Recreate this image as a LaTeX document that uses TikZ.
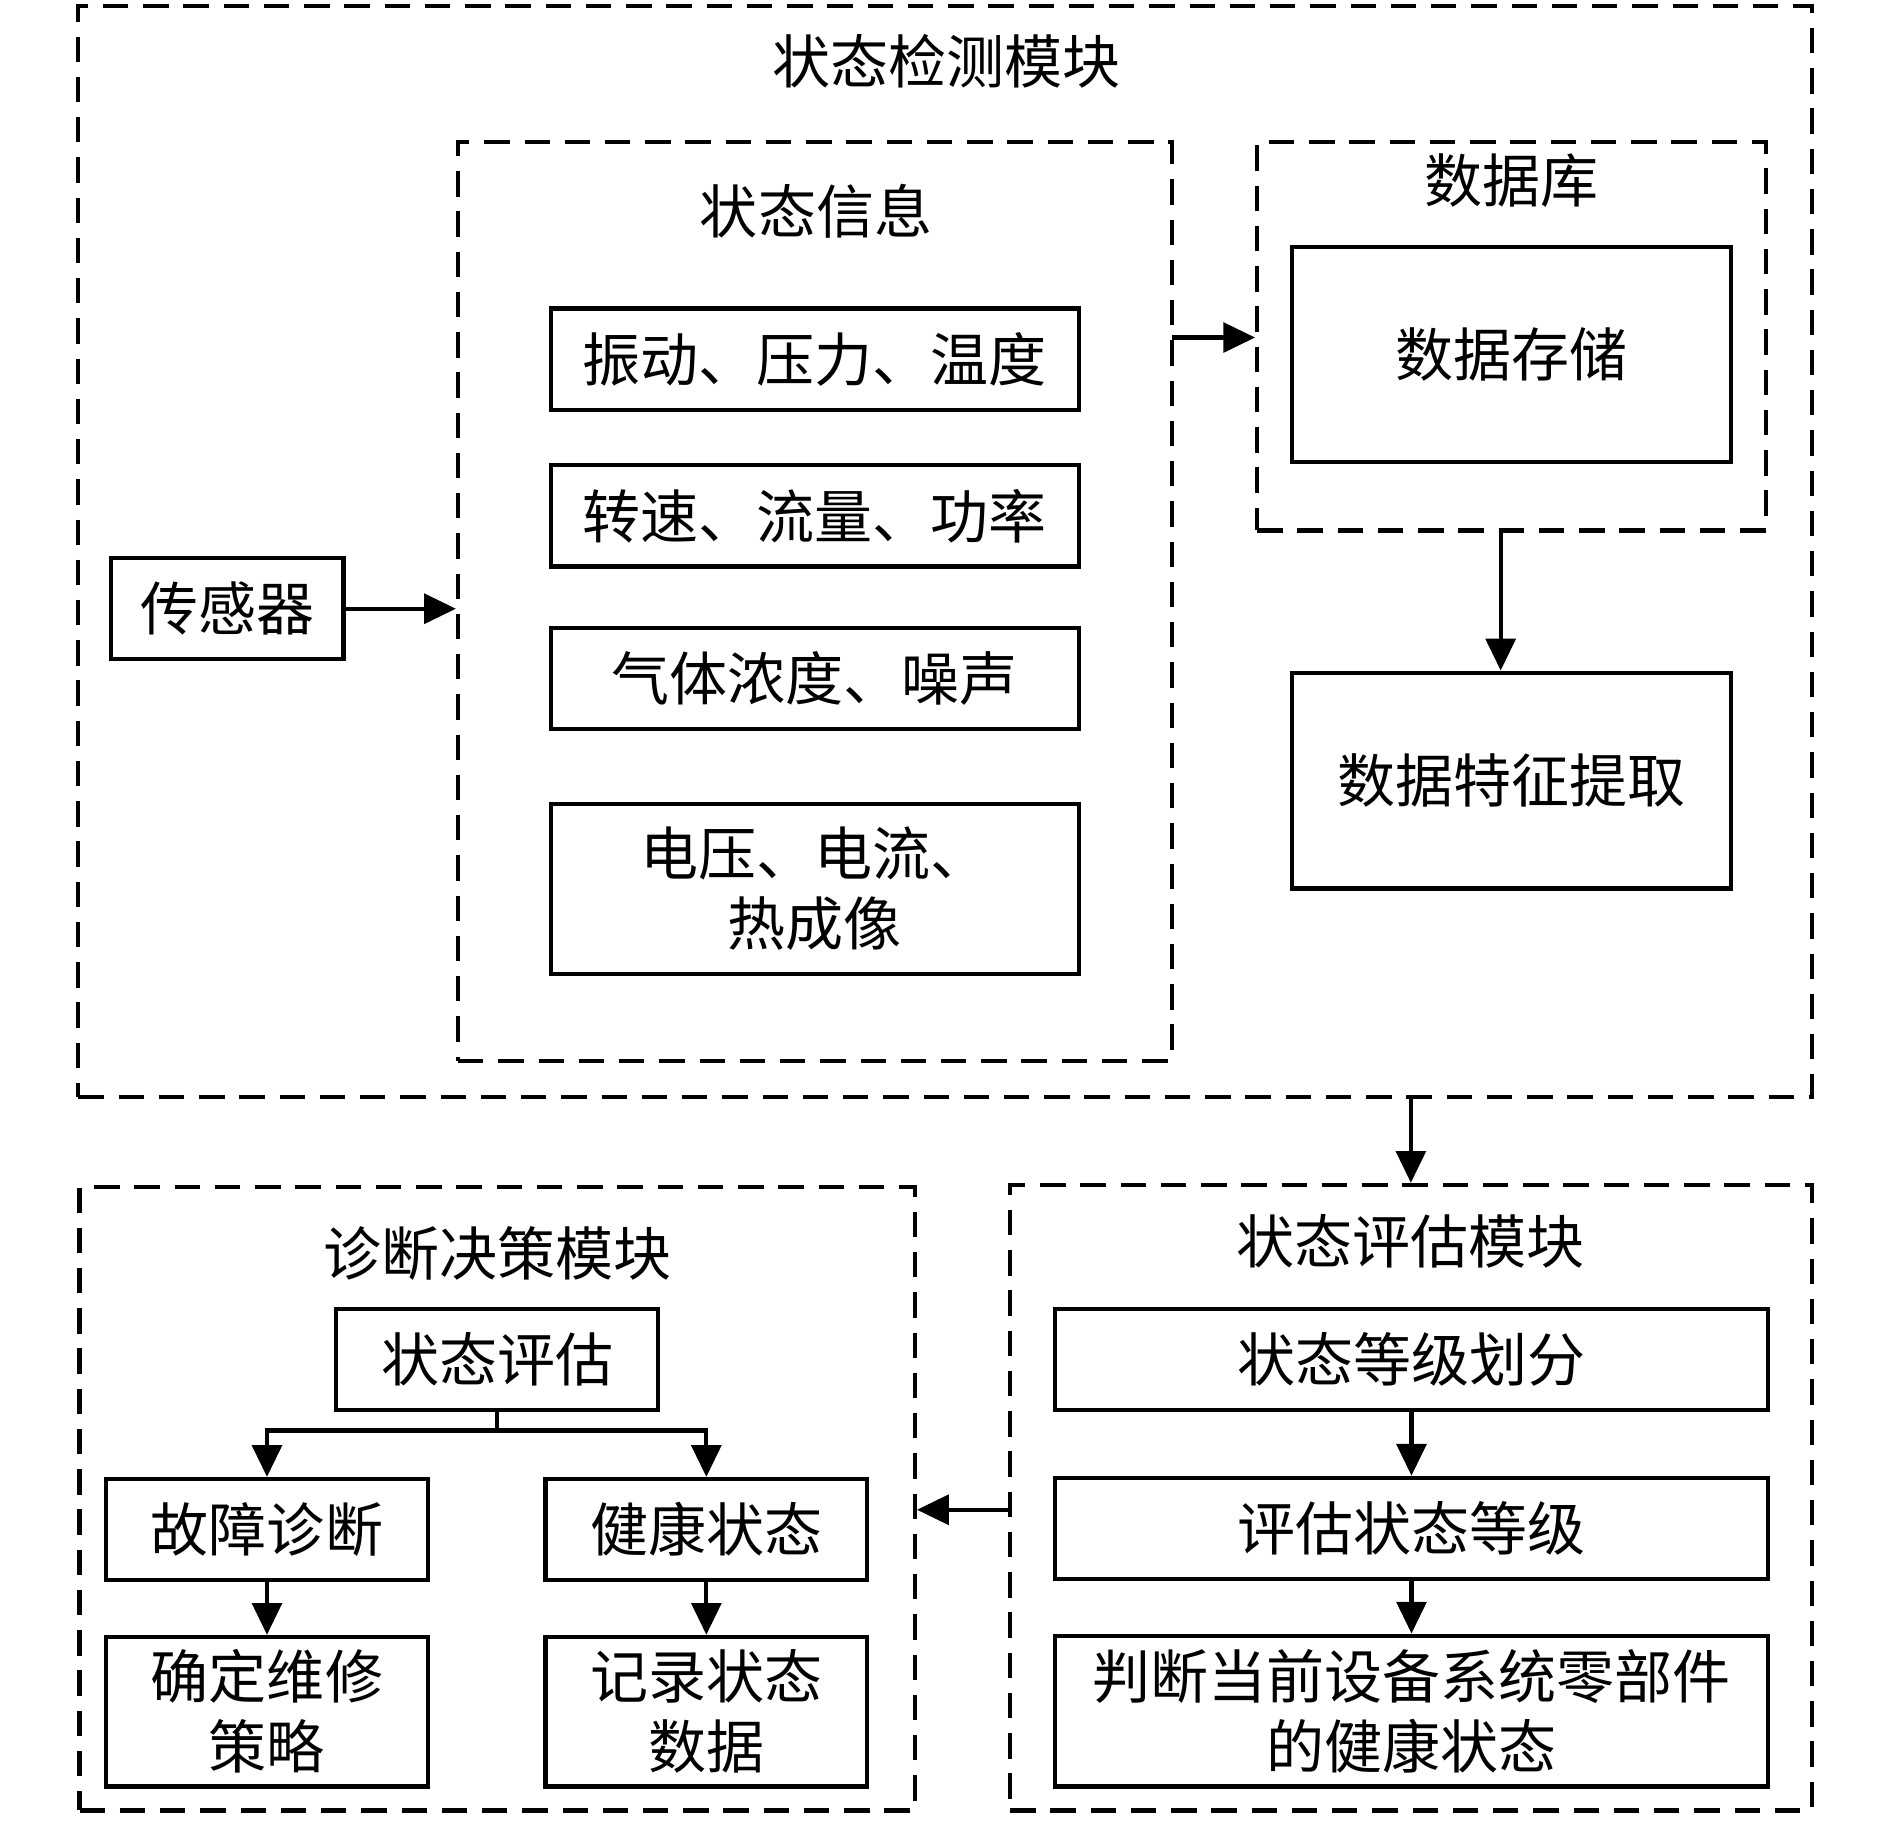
\documentclass[tikz,border=0pt]{standalone}
\usepackage{fontspec}
\setmainfont{Noto Sans CJK SC}
\usetikzlibrary{arrows.meta}

\tikzstyle{module}=[draw,line width=1pt,dash pattern=on 6pt off 3.5pt,rectangle,inner sep=0pt]
\tikzstyle{block}=[draw,line width=1pt,rectangle,inner sep=0pt,align=center]
\tikzstyle{flow} = [draw,line width=1pt,-{Triangle[length=7.5pt,width=7pt]}]
\tikzstyle{link} = [draw,line width=1pt,-]
\newcommand{\cnfont}{\fontsize{13.7}{16.5}\selectfont}

\begin{document}
\begin{tikzpicture}[y=-1cm, font=\cnfont]
    \useasboundingbox (0,0) rectangle (15.68,15.14);
    % First we draw the dashed module frames
    \node[module, minimum width=14.38cm, minimum height=9.05cm] (detect) at (7.84,4.575) {};
    \node[module, minimum width=5.92cm, minimum height=7.62cm] (info) at (6.76,4.99) {};
    \node[module, minimum width=4.22cm, minimum height=3.22cm] (db) at (12.54,2.79) {};
    \node[module, minimum width=6.65cm, minimum height=5.19cm] (assess) at (11.705,12.425) {};
    \node[module, minimum width=6.93cm, minimum height=5.17cm] (diag) at (4.125,12.435) {};
    % Frame titles
    \foreach \pos/\name/\txt in {{(7.85,0.51)/tdetect/状态检测模块}, {(6.77,1.75)/tinfo/状态信息}, {(12.54,1.50)/tdb/数据库}, {(11.70,10.30)/tassess/状态评估模块}, {(4.13,10.40)/tdiag/诊断决策模块}}
        \node (\name) at \pos {\txt};
    % Boxes of the detection module
    \foreach \pos/\name/\txt in {{(6.76,2.98)/vib/振动、压力、温度}, {(6.76,4.28)/speed/转速、流量、功率}, {(6.76,5.63)/gas/气体浓度、噪声}}
        \node[block, minimum width=4.38cm, minimum height=0.84cm] (\name) at \pos {\txt};
    \node[block, minimum width=4.38cm, minimum height=1.41cm] (volt) at (6.76,7.375) {电压、电流、\\热成像};
    \node[block, minimum width=1.93cm, minimum height=0.84cm] (sensor) at (1.885,5.05) {传感器};
    \node[block, minimum width=3.64cm, minimum height=1.78cm] (store) at (12.54,2.94) {数据存储};
    \node[block, minimum width=3.64cm, minimum height=1.79cm] (feat) at (12.54,6.475) {数据特征提取};
    % Boxes of the assessment module
    \foreach \pos/\name/\txt in {{(11.71,11.28)/grade/状态等级划分}, {(11.71,12.68)/level/评估状态等级}}
        \node[block, minimum width=5.92cm, minimum height=0.84cm] (\name) at \pos {\txt};
    \node[block, minimum width=5.92cm, minimum height=1.25cm] (judge) at (11.71,14.195) {判断当前设备系统零部件\\的健康状态};
    % Boxes of the decision module
    \foreach \pos/\name/\txt in {{(4.125,11.28)/evalD/状态评估}, {(2.215,12.69)/fault/故障诊断}, {(5.86,12.69)/health/健康状态}}
        \node[block, minimum width=2.67cm, minimum height=0.84cm] (\name) at \pos {\txt};
    \node[block, minimum width=2.67cm, minimum height=1.24cm] (plan) at (2.215,14.20) {确定维修\\策略};
    \node[block, minimum width=2.67cm, minimum height=1.24cm] (record) at (5.86,14.20) {记录状态\\数据};
    % Connect them
    \coordinate (tap) at (9.72,2.80);
    \path[flow] (sensor.east) -- (sensor.east -| info.west);
    \path[flow] (tap) -- (tap -| db.west);
    \path[flow] ([xshift=-0.09cm]db.south) -- ([xshift=-0.09cm]db.south |- feat.north);
    \path[flow] (detect.south -| assess.north) -- (assess.north);
    \foreach \source/\dest in {grade/level, level/judge, fault/plan, health/record}
        \path[flow] (\source) -- (\dest);
    \path[flow] ([yshift=-0.1cm]assess.west) -- ([yshift=-0.1cm]assess.west -| diag.east);
    \path[link] (evalD.south) -- ++(0,0.15) coordinate (split);
    \path[flow] (split) -| (fault.north);
    \path[flow] (split) -| (health.north);
\end{tikzpicture}
\end{document}
